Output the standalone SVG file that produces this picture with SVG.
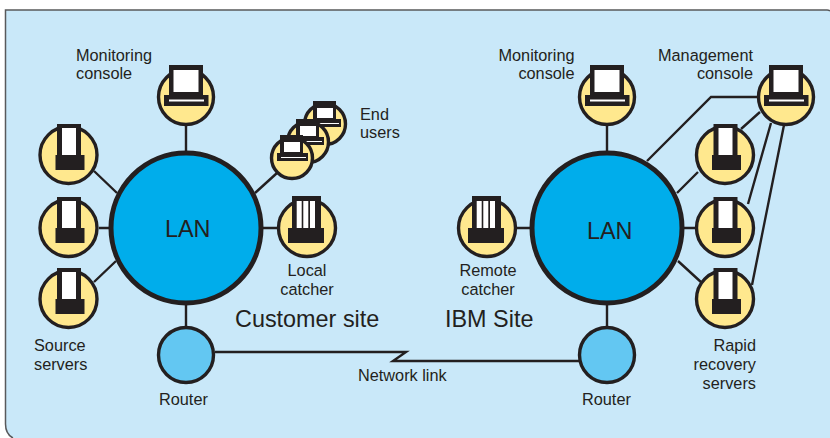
<svg xmlns="http://www.w3.org/2000/svg" xmlns:xlink="http://www.w3.org/1999/xlink" width="830" height="438" viewBox="0 0 830 438">
<style>
text{font-family:"Liberation Sans",Arial,sans-serif;font-size:16.3px;fill:#231f20}
.big{font-size:23.4px}
.e{text-anchor:end}
.m{text-anchor:middle}
.c{fill:none;stroke:#231f20;stroke-width:2.4}
.lan{fill:#00adeb;stroke:#231f20;stroke-width:5}
.rt{fill:#63c7f2;stroke:#231f20;stroke-width:3.4}
.y{fill:#ffe88e;stroke:#231f20;stroke-width:3.4}
.k{fill:#231f20}
.w{fill:#fff}
</style>
<defs>
<g id="mon">
<circle class="y" cx="0" cy="0" r="27.5"/>
<rect class="k" x="-17" y="-32" width="34" height="32"/>
<rect class="w" x="-12.500" y="-27" width="25" height="22"/>
<rect class="k" x="-22" y="-2" width="44.500" height="11"/>
<rect class="w" x="-17" y="2.500" width="35" height="2"/>
</g>
<g id="srv">
<circle class="y" cx="0" cy="0" r="28.500"/>
<rect class="k" x="-11.500" y="-31" width="24" height="32"/>
<rect class="w" x="-6.500" y="-27" width="14" height="27"/>
<rect class="k" x="-13" y="0" width="29" height="15"/>
</g>
<g id="cat">
<circle class="y" cx="0" cy="0" r="28.500"/>
<rect class="k" x="-15" y="-32" width="29" height="33"/>
<rect class="w" x="-10.300" y="-27" width="5" height="27"/>
<rect class="w" x="-3.700" y="-27" width="5" height="27"/>
<rect class="w" x="3" y="-27" width="5" height="27"/>
<rect class="k" x="-19" y="0" width="36" height="15"/>
</g>
<g id="usr">
<circle class="y" cx="0" cy="0" r="20.500"/>
<rect class="k" x="-12" y="-23" width="23" height="20"/>
<rect class="w" x="-8" y="-16" width="16" height="10"/>
<rect class="k" x="-15" y="-5" width="31" height="8"/>
<rect class="w" x="-11" y="-1" width="25" height="1"/>
</g>
</defs>
<path id="panel" d="M830,438V11Q829,10 827,10H5.500V424Q5.500,438 16,438Z" fill="#c9e8f9"/>
<path d="M830,11Q829,10 827,10H5.500V424Q5.500,434 13,438" fill="none" stroke="#58595b" stroke-width="1.500"/>
<g id="connectors">
<path class="c" d="M186,126V151M94,171L117,193M99,228H110M94,282L116,261M263,228H278M277,173L255,193M186,305V327"/>
<path class="c" d="M607,126V151M698,172L677,193M684,228H696M678,261L702,283M516,228H530M607,305V327"/>
<path class="c" d="M647,161L711,97H760M741,129L760,112M771,123L748,204M784,125L752,285"/>
<path class="c" d="M215,352H406L393,361H580"/>
</g>
<g id="lan-customer"><circle class="lan" cx="186" cy="228" r="75"/><text class="big" x="165" y="237">LAN</text></g>
<g id="lan-ibm"><circle class="lan" cx="607" cy="228" r="75"/><text class="big" x="587" y="239">LAN</text></g>
<g id="monitoring-customer"><use xlink:href="#mon" href="#mon" x="186" y="97"/><text x="76" y="61">Monitoring</text><text x="76" y="79">console</text></g>
<g id="source-1"><use xlink:href="#srv" href="#srv" x="68.500" y="155"/></g>
<g id="source-2"><use xlink:href="#srv" href="#srv" x="68.500" y="228"/></g>
<g id="source-3"><use xlink:href="#srv" href="#srv" x="68.500" y="299"/><text x="34" y="351">Source</text><text x="34" y="370">servers</text></g>
<g id="end-users">
<use xlink:href="#usr" href="#usr" x="325" y="124"/>
<use xlink:href="#usr" href="#usr" x="308" y="142"/>
<use xlink:href="#usr" href="#usr" x="292" y="158"/>
<text x="360" y="120">End</text><text x="360" y="138">users</text>
</g>
<g id="local-catcher"><use xlink:href="#cat" href="#cat" x="307" y="228"/><text class="m" x="307" y="276">Local</text><text class="m" x="307" y="295">catcher</text></g>
<g id="router-customer"><circle class="rt" cx="186" cy="355" r="27.500"/><text x="159" y="405">Router</text></g>
<g id="monitoring-ibm"><use xlink:href="#mon" href="#mon" x="607" y="97"/><text class="e" x="574.500" y="61">Monitoring</text><text class="e" x="574.500" y="79">console</text></g>
<g id="management"><use xlink:href="#mon" href="#mon" x="786" y="97"/><text class="e" x="753" y="61">Management</text><text class="e" x="753" y="79">console</text></g>
<g id="rapid-1"><use xlink:href="#srv" href="#srv" x="725" y="155"/></g>
<g id="rapid-2"><use xlink:href="#srv" href="#srv" x="725" y="228"/></g>
<g id="rapid-3"><use xlink:href="#srv" href="#srv" x="725" y="299"/><text class="e" x="756" y="351">Rapid</text><text class="e" x="756" y="370">recovery</text><text class="e" x="756" y="389">servers</text></g>
<g id="remote-catcher"><use xlink:href="#cat" href="#cat" x="487" y="228"/><text class="m" x="488" y="276">Remote</text><text class="m" x="488" y="295">catcher</text></g>
<g id="router-ibm"><circle class="rt" cx="607" cy="355" r="27.500"/><text x="582" y="405">Router</text></g>
<text class="big" x="235" y="326.500">Customer site</text>
<text class="big" x="445" y="326.500">IBM Site</text>
<text x="358" y="381">Network link</text>
</svg>
